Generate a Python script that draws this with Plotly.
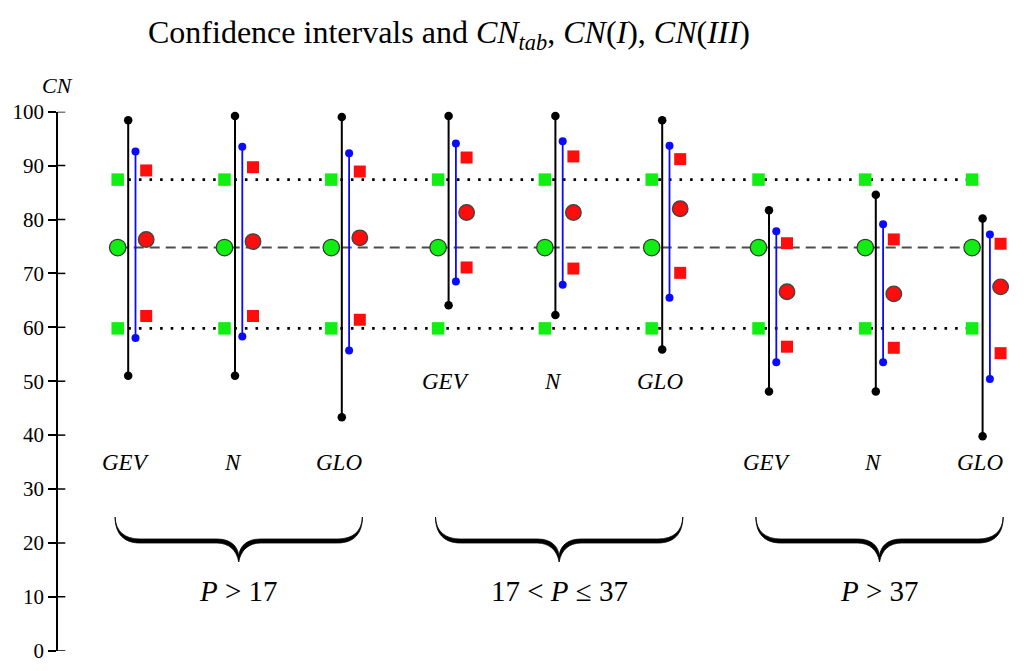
import plotly.graph_objects as go

# ---------------- data ----------------
distributions = ["GEV", "N", "GLO", "GEV", "N", "GLO", "GEV", "N", "GLO"]
class_labels = ["<i>P</i> > 17", "17 < <i>P</i> ≤ 37", "<i>P</i> > 37"]
group_pos = [0, 1, 2, 3, 4, 5, 6, 7, 8]

# wide confidence interval (black)
ci_black_low = [51.0, 51.0, 43.3, 64.1, 62.3, 55.9, 48.1, 48.1, 39.8]
ci_black_high = [98.4, 99.2, 99.0, 99.2, 99.2, 98.4, 81.7, 84.6, 80.2]
# narrow confidence interval (blue)
ci_blue_low = [58.0, 58.3, 55.7, 68.5, 67.9, 65.5, 53.5, 53.5, 50.4]
ci_blue_high = [92.6, 93.5, 92.3, 94.1, 94.5, 93.7, 77.8, 79.1, 77.2]
# estimated CN(I), CN, CN(III) (red)
cn_I_est = [62.1, 62.1, 61.4, 71.1, 70.9, 70.1, 56.4, 56.2, 55.2]
cn_est = [76.3, 75.9, 76.6, 81.3, 81.3, 82.0, 66.6, 66.2, 67.5]
cn_III_est = [89.1, 89.7, 88.9, 91.5, 91.7, 91.2, 75.6, 76.3, 75.5]
# tabulated values (green)
cn_tab = 74.8
cn_I_tab = 59.8
cn_III_tab = 87.4

y_ticks = [0, 10, 20, 30, 40, 50, 60, 70, 80, 90, 100]
dist_label_y = [35, 35, 35, 50, 50, 50, 35, 35, 35]
class_label_y = 11.0

# ---------------- geometry / style ----------------
PAGE_OFF = 8      # default body margin of the html page
PX_X = 106.8      # pixels per group unit
PX_Y = 5.39       # pixels per CN unit
X0_PX = 117.7 - PAGE_OFF
Y0_PX = 650.7 - PAGE_OFF
W, H = 1024 - PAGE_OFF, 671 - PAGE_OFF
x_range = [-X0_PX / PX_X, (W - X0_PX) / PX_X]
dom_bottom = (H - Y0_PX) / H
dom_top = (H - (Y0_PX - 100 * PX_Y)) / H
AXIS_PX = 57.3 - PAGE_OFF
axis_x_paper = AXIS_PX / W
axis_x_data = x_range[0] + AXIS_PX / PX_X

off_black = 10.5 / PX_X
off_blue = 17.8 / PX_X
off_red = 28.5 / PX_X

x_green = [g for g in group_pos]
x_black = [g + off_black for g in group_pos]
x_blue = [g + off_blue for g in group_pos]
x_red = [g + off_red for g in group_pos]

FONT = "Liberation Serif"
GREEN = "#11ee11"
RED = "#ff0d0d"
BLUE = "#0a0aff"


def segs(xs, lo, hi):
    X, Y = [], []
    for x, a, b in zip(xs, lo, hi):
        X += [x, x, None]
        Y += [a, b, None]
    return X, Y


fig = go.Figure()

# reference lines
fig.add_trace(go.Scatter(x=[x_green[0], x_green[-1]], y=[cn_tab, cn_tab], mode="lines",
                         line=dict(color="#4d4d4d", width=1.9, dash="10px,6px"),
                         hoverinfo="skip", showlegend=False))
for v in (cn_I_tab, cn_III_tab):
    fig.add_trace(go.Scatter(x=[x_green[0], x_green[-1]], y=[v, v], mode="lines",
                             line=dict(color="black", width=2.8, dash="2.6px,8px"),
                             hoverinfo="skip", showlegend=False))

# black intervals
bx, by = segs(x_black, ci_black_low, ci_black_high)
fig.add_trace(go.Scatter(x=bx, y=by, mode="lines+markers",
                         line=dict(color="black", width=2),
                         marker=dict(color="black", size=8.5),
                         cliponaxis=False, showlegend=False))
# blue intervals
ux, uy = segs(x_blue, ci_blue_low, ci_blue_high)
fig.add_trace(go.Scatter(x=ux, y=uy, mode="lines+markers",
                         line=dict(color=BLUE, width=1.8),
                         marker=dict(color=BLUE, size=8),
                         cliponaxis=False, showlegend=False))

# green tabulated squares & circles
fig.add_trace(go.Scatter(x=x_green + x_green, y=[cn_I_tab] * 9 + [cn_III_tab] * 9, mode="markers",
                         marker=dict(symbol="square", color=GREEN, size=12.5, line=dict(width=0)),
                         cliponaxis=False, showlegend=False))
fig.add_trace(go.Scatter(x=x_green, y=[cn_tab] * 9, mode="markers",
                         marker=dict(symbol="circle", color=GREEN, size=16.5,
                                     line=dict(color="#333333", width=1.2)),
                         cliponaxis=False, showlegend=False))

# red estimated squares & circles
fig.add_trace(go.Scatter(x=x_red + x_red, y=cn_I_est + cn_III_est, mode="markers",
                         marker=dict(symbol="square", color=RED, size=12, line=dict(width=0)),
                         cliponaxis=False, showlegend=False))
fig.add_trace(go.Scatter(x=x_red, y=cn_est, mode="markers",
                         marker=dict(symbol="circle", color=RED, size=15.5,
                                     line=dict(color="#444444", width=1.4)),
                         cliponaxis=False, showlegend=False))

shapes = []
# inner half of the y-axis ticks
for t in y_ticks:
    shapes.append(dict(type="line", xref="x", yref="y", xsizemode="pixel", xanchor=axis_x_data,
                       x0=0, x1=8, y0=t, y1=t, line=dict(color="black", width=1.5)))


# curly braces under each class
def brace_path(xl, xr, ytop):
    wpx = (xr - xl) * PX_X
    c = wpx / 2

    def P(dx, dy):
        return f"{xl + dx / PX_X:.5f},{ytop - dy / PX_Y:.5f}"

    pts = [
        "M" + P(0, 0),
        "C" + P(0, 16) + " " + P(8, 26) + " " + P(25, 26),
        "L" + P(c - 22, 26),
        "C" + P(c - 10, 26) + " " + P(c - 2, 33) + " " + P(c, 45),
        "C" + P(c + 2, 33) + " " + P(c + 10, 26) + " " + P(c + 22, 26),
        "L" + P(wpx - 25, 26),
        "C" + P(wpx - 8, 26) + " " + P(wpx, 16) + " " + P(wpx, 0),
        "C" + P(wpx - 0.5, 14) + " " + P(wpx - 9, 22) + " " + P(wpx - 25, 22),
        "L" + P(c + 22, 22),
        "C" + P(c + 8, 22) + " " + P(c + 1, 29) + " " + P(c, 39),
        "C" + P(c - 1, 29) + " " + P(c - 8, 22) + " " + P(c - 22, 22),
        "L" + P(25, 22),
        "C" + P(9, 22) + " " + P(0.5, 14) + " " + P(0, 0),
        "Z",
    ]
    return " ".join(pts)


brace_top = (Y0_PX - (517 - PAGE_OFF)) / PX_Y
annotations = []
for k in range(3):
    g0, g1 = 3 * k, 3 * k + 2
    xl = x_green[g0] - 2.6 / PX_X
    xr = x_red[g1] + 2.6 / PX_X
    shapes.append(dict(type="path", xref="x", yref="y", path=brace_path(xl, xr, brace_top),
                       fillcolor="black", line=dict(color="black", width=0.8)))
    annotations.append(dict(x=(xl + xr) / 2, y=class_label_y, xref="x", yref="y",
                            text=class_labels[k], showarrow=False, xanchor="center", yanchor="middle",
                            font=dict(family=FONT, size=29, color="black")))

# distribution labels
for i in range(9):
    annotations.append(dict(x=x_green[i] + 8 / PX_X, y=dist_label_y[i], xref="x", yref="y",
                            text=f"<i>{distributions[i]}</i>", showarrow=False,
                            xanchor="center", yanchor="middle",
                            font=dict(family=FONT, size=23, color="black")))

# axis title and chart title
annotations.append(dict(x=axis_x_paper, y=(H - (85 - PAGE_OFF)) / H, xref="paper", yref="paper",
                        text="<i>CN</i>", showarrow=False, xanchor="center", yanchor="middle",
                        font=dict(family=FONT, size=22, color="black")))
annotations.append(dict(x=(449 - PAGE_OFF) / W, y=(H - (35 - PAGE_OFF)) / H, xref="paper", yref="paper",
                        text="Confidence intervals and <i>CN</i><sub><i>tab</i></sub>, "
                             "<i>CN</i>(<i>I</i>), <i>CN</i>(<i>III</i>)",
                        showarrow=False, xanchor="center", yanchor="middle",
                        font=dict(family=FONT, size=32, color="black")))

fig.update_layout(
    width=W, height=H,
    margin=dict(l=0, r=0, t=0, b=0),
    paper_bgcolor="white", plot_bgcolor="white",
    xaxis=dict(range=x_range, visible=False, showgrid=False, zeroline=False, fixedrange=True),
    yaxis=dict(range=[0, 100], domain=[dom_bottom, dom_top], anchor="free", position=axis_x_paper,
               showgrid=False, zeroline=False, showline=True, linecolor="black", linewidth=2,
               ticks="outside", ticklen=8, tickwidth=1.5, tickcolor="black",
               tickvals=y_ticks, ticktext=[str(t) for t in y_ticks],
               tickfont=dict(family=FONT, size=21, color="black"), automargin=False),
    shapes=shapes,
    annotations=annotations,
    showlegend=False,
)

fig.write_html("out.html")
